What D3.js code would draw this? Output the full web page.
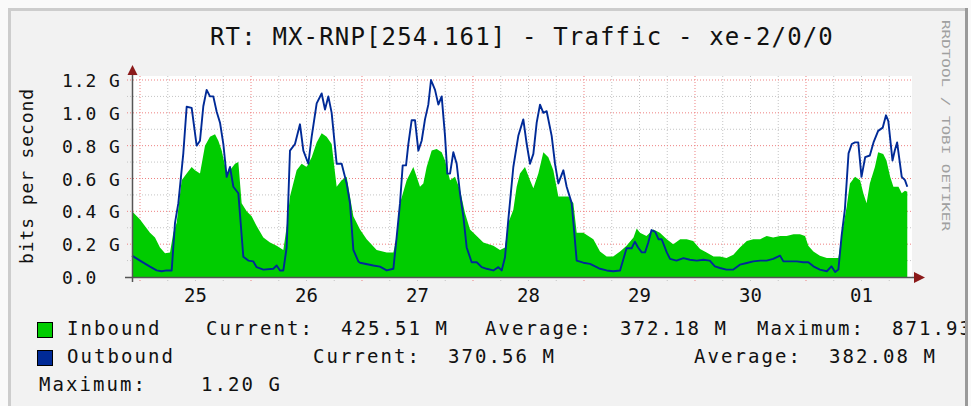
<!DOCTYPE html>
<html><head><meta charset="utf-8">
<script src="https://cdn.jsdelivr.net/npm/d3@7"></script>
<style>html,body{margin:0;padding:0;background:#fff;} svg{display:block;font-family:"DejaVu Sans Mono",monospace;}</style>
</head><body><div id="chart"></div>
<script>
const title = "RT: MX-RNP[254.161] - Traffic - xe-2/0/0";
const yAxisTitle = "bits per second";
const sideText = "RRDTOOL / TOBI OETIKER";
const yTickValues = [0, 200, 400, 600, 800, 1000, 1200]; // Mbps
const yTickLabels = ["0.0", "0.2 G", "0.4 G", "0.6 G", "0.8 G", "1.0 G", "1.2 G"];
const dayLabels = ["25", "26", "27", "28", "29", "30", "01"];
const dayStartHours = [0, 24, 48, 72, 96, 120, 144]; // hours from midnight of the 25th
const legendNames = ["Inbound", "Outbound"];
const inboundStats = ["425.51 M", "372.18 M", "871.93 M"];   // current, average, maximum
const outboundStats = ["370.56 M", "382.08 M", "1.20 G"];

const inboundHours = [-1.73,0.0,2.16,3.24,4.32,5.41,6.49,7.21,7.93,9.01,10.09,11.17,11.89,12.97,14.05,15.13,16.22,16.94,17.66,18.74,19.46,20.54,21.26,21.98,23.06,24.14,25.22,26.67,28.11,29.55,30.99,31.71,32.43,33.87,34.95,36.03,37.12,38.2,39.28,40.36,41.44,42.52,43.6,44.68,45.4,46.13,47.57,49.01,51.17,53.34,54.78,55.5,56.22,57.66,59.1,59.82,60.54,61.26,61.98,63.07,64.15,65.23,65.95,67.03,68.11,69.19,70.27,71.35,72.8,74.24,76.4,77.84,78.92,79.64,80.72,81.44,82.16,83.24,84.33,85.05,86.13,87.21,88.29,89.37,90.45,91.53,92.61,93.7,94.42,95.86,98.02,99.46,100.9,102.3,103.8,105.2,106.7,107.4,108.1,109.5,111.0,112.4,113.9,115.3,116.8,118.2,119.6,121.1,122.5,124.0,125.4,126.8,128.3,129.7,131.2,132.6,134.1,135.5,136.9,138.4,139.8,141.3,142.7,143.8,144.5,145.6,147.0,148.5,149.9,151.0,151.7,152.8,153.5,154.6,155.7,156.4,157.1,157.8,158.9,159.6,160.7,161.4,162.2,162.9,164.0,164.7,165.4,165.9];
const inboundMbps = [400,350,270,240,180,145,150,270,330,590,630,670,650,630,800,855,870,830,770,630,650,690,700,450,400,370,310,240,210,190,165,306,490,650,690,670,730,820,875,855,810,550,590,610,490,370,290,230,165,150,150,245,450,590,670,610,550,570,670,770,780,760,710,590,610,530,390,290,250,210,190,165,180,330,410,550,630,670,590,540,630,760,730,650,490,490,490,450,270,270,230,155,125,125,155,190,240,296,270,250,290,270,230,200,230,230,220,170,150,125,125,115,135,180,220,230,230,250,240,250,250,260,260,250,190,155,130,115,115,115,250,430,570,610,590,510,450,570,670,760,750,710,610,550,550,510,525,520];

const outboundHours = [-1.73,0.0,2.16,3.6,4.68,5.77,6.85,7.57,8.29,9.37,10.09,11.17,12.25,12.97,13.69,14.41,15.13,15.85,16.58,17.3,18.02,18.74,19.46,20.18,21.26,22.34,23.42,24.5,25.22,26.67,28.83,29.55,30.27,30.99,31.71,32.43,33.51,34.59,35.32,36.4,37.12,38.2,39.28,40.0,40.72,41.44,42.52,43.6,44.68,45.4,46.13,47.21,47.57,50.45,51.89,53.34,54.78,55.5,56.22,56.8,57.52,58.02,58.74,59.46,60.18,60.9,61.62,62.34,62.92,63.79,64.51,65.23,65.95,66.45,67.03,67.75,68.47,69.19,69.91,70.63,71.71,72.8,73.88,74.96,76.4,77.48,78.2,78.92,79.64,80.72,81.8,82.88,83.61,84.33,85.05,85.77,86.49,87.21,87.93,89.01,89.73,90.45,91.53,92.25,93.34,94.42,95.86,97.3,98.74,99.46,100.9,102.3,103.8,105.2,106.3,107.0,107.7,108.5,109.2,109.9,110.6,111.4,112.1,112.8,113.9,114.6,116.0,117.5,118.9,120.4,121.8,123.2,124.3,125.4,126.8,128.3,129.7,131.2,132.6,134.1,135.5,136.9,138.4,139.1,140.5,142.0,143.4,144.5,145.6,147.0,148.5,149.5,150.3,151.0,151.7,152.4,153.2,153.9,154.6,155.3,156.0,156.8,157.8,158.6,159.6,160.6,161.3,161.8,162.7,163.2,163.7,164.7,165.4,165.9];
const outboundMbps = [130,100,63,40,35,40,40,330,450,755,1037,1030,800,830,1040,1140,1100,1100,1007,940,810,610,670,550,510,124,100,95,60,45,50,70,40,40,180,770,810,930,770,690,855,1058,1118,1020,1100,1000,690,690,570,450,165,95,87,70,63,40,50,245,450,680,680,810,955,955,770,830,960,1050,1200,1140,1050,1100,860,630,630,760,690,510,370,180,90,90,60,50,40,60,40,120,350,670,860,960,810,690,750,940,1050,1000,1010,860,690,570,650,550,450,100,87,80,60,50,40,35,40,175,175,215,180,150,150,210,286,275,230,230,150,110,100,115,105,100,105,100,65,55,45,45,75,85,95,100,100,110,130,95,95,95,90,90,65,45,35,65,30,45,250,410,753,810,820,820,610,730,740,820,890,910,985,950,710,770,820,610,590,550];

const W = 971, H = 406;
const svg = d3.select("#chart").append("svg").attr("width", W).attr("height", H);

// frame
svg.append("rect").attr("x",0).attr("y",0).attr("width",W).attr("height",H).attr("fill","#fafafa");
svg.append("rect").attr("x",8).attr("y",8).attr("width",960).attr("height",H).attr("fill","#f2f2f2");
svg.append("rect").attr("x",8).attr("y",8).attr("width",3).attr("height",H).attr("fill","#cdcdcd");
svg.append("rect").attr("x",8).attr("y",8).attr("width",960).attr("height",3).attr("fill","#cdcdcd");

const x = d3.scaleLinear().domain([-1.73, 166.92]).range([132, 912]);
const y = d3.scaleLinear().domain([0, 1200]).range([277, 80]);

// plot canvas
svg.append("rect").attr("x",x(-1.73)).attr("y",76).attr("width",x(166.92)-x(-1.73)).attr("height",y(0)-76).attr("fill","#ffffff");

const g = svg.append("g");
// minor grid
const minorY = d3.range(100, 1201, 200);
const minorX = [];
dayStartHours.forEach(d => [6,12,18].forEach(o => { if (d+o < 166.92) minorX.push(d+o); }));
g.selectAll(".mgy").data(minorY).join("line")
  .attr("x1",127).attr("x2",912).attr("y1",d=>y(d)).attr("y2",d=>y(d))
  .attr("stroke","#c4c4c4").attr("stroke-width",1).attr("stroke-dasharray","1,2");
g.selectAll(".mgx").data(minorX).join("line")
  .attr("x1",d=>x(d)).attr("x2",d=>x(d)).attr("y1",76).attr("y2",281)
  .attr("stroke","#c4c4c4").attr("stroke-width",1).attr("stroke-dasharray","1,2");
// major grid
g.selectAll(".Mgy").data(yTickValues.slice(1)).join("line")
  .attr("x1",127).attr("x2",912).attr("y1",d=>y(d)).attr("y2",d=>y(d))
  .attr("stroke","#ee8080").attr("stroke-width",1).attr("stroke-dasharray","1,2");
g.selectAll(".Mgx").data(dayStartHours).join("line")
  .attr("x1",d=>x(d)).attr("x2",d=>x(d)).attr("y1",76).attr("y2",283)
  .attr("stroke","#ee8080").attr("stroke-width",1).attr("stroke-dasharray","1,2");

// inbound area
const inData = inboundHours.map((h,i)=>[h, inboundMbps[i]]);
const outData = outboundHours.map((h,i)=>[h, outboundMbps[i]]);
svg.append("path").datum(inData)
  .attr("d", d3.area().x(d=>x(d[0])).y0(y(0)).y1(d=>y(d[1])))
  .attr("fill","#00cc00");
svg.append("path").datum(outData)
  .attr("d", d3.line().x(d=>x(d[0])).y(d=>y(d[1])))
  .attr("fill","none").attr("stroke","#002a97").attr("stroke-width",1.9).attr("stroke-linejoin","round");

// axes
svg.append("line").attr("x1",125).attr("x2",916).attr("y1",y(0)+0.5).attr("y2",y(0)+0.5).attr("stroke","#555").attr("stroke-width",1.5);
svg.append("line").attr("x1",132.5).attr("x2",132.5).attr("y1",282).attr("y2",72).attr("stroke","#555").attr("stroke-width",1.5);
svg.append("path").attr("d",`M914,${y(0)-5}L925,${y(0)+0.5}L914,${y(0)+6}Z`).attr("fill","#8b1a1a");
svg.append("path").attr("d","M127.5,75L132.5,65L137.5,75Z").attr("fill","#8b1a1a");

// y tick labels
svg.selectAll(".yl").data(yTickValues).join("text")
  .attr("x",62).attr("y",d=>y(d)+7)
  .attr("font-size",18).attr("letter-spacing",0.9).attr("fill","#111")
  .text((d,i)=>yTickLabels[i]);
// x tick labels
svg.selectAll(".xl").data(dayStartHours).join("text")
  .attr("x",d=>x(d+12)).attr("y",302).attr("text-anchor","middle")
  .attr("font-size",19).attr("fill","#111")
  .text((d,i)=>dayLabels[i]);

// title
svg.append("text").attr("x",210).attr("y",45).attr("font-size",24).attr("letter-spacing",1.15).attr("fill","#111").text(title);
// y axis title
svg.append("text").attr("transform","translate(33,176) rotate(-90)").attr("text-anchor","middle")
  .attr("font-size",18).attr("letter-spacing",0.9).attr("fill","#111").text(yAxisTitle);
// side text
svg.append("text").attr("transform","translate(942,20) rotate(90)")
  .attr("font-size",10.5).attr("textLength",211).attr("lengthAdjust","spacingAndGlyphs")
  .attr("fill","#a0a0a0").text(sideText);

// legend
const clip = svg.append("clipPath").attr("id","lc").append("rect").attr("x",0).attr("y",0).attr("width",965).attr("height",H);
const leg = svg.append("g").attr("clip-path","url(#lc)").attr("font-size",19).attr("letter-spacing",2.06).attr("fill","#111");
const swatch = [["#00cc00",322],["#002a97",350]];
swatch.forEach(s => leg.append("rect").attr("x",37.5).attr("y",s[1]+0.5).attr("width",15).attr("height",15).attr("fill",s[0]).attr("stroke","#000").attr("stroke-width",1));
const items = [
  [67,335, legendNames[0]],
  [206,335, "Current:  " + inboundStats[0]],
  [485,335, "Average:  " + inboundStats[1]],
  [757,335, "Maximum:  " + inboundStats[2]],
  [67,363, legendNames[1]],
  [313,363, "Current:  " + outboundStats[0]],
  [694,363, "Average:  " + outboundStats[1]],
  [39,391, "Maximum:    " + outboundStats[2]]
];
items.forEach(t => leg.append("text").attr("x",t[0]).attr("y",t[1]).attr("xml:space","preserve").style("white-space","pre").text(t[2]));

// right border
svg.append("rect").attr("x",965).attr("y",8).attr("width",3).attr("height",H).attr("fill","#9a9a9a");
svg.append("rect").attr("x",968).attr("y",0).attr("width",3).attr("height",H).attr("fill","#fafafa");
</script></body></html>
